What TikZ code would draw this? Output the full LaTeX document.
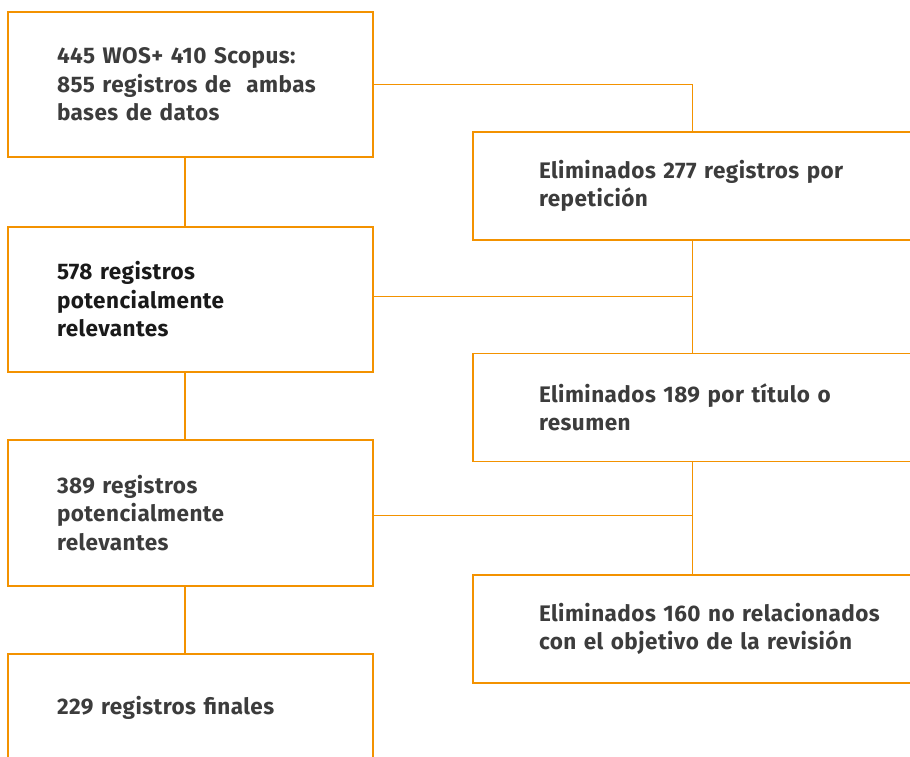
\documentclass[tikz,border=0pt]{standalone}
\usepackage{fontspec}
\setmainfont{Fira Sans}[LetterSpace=2]
\usepackage{tikz}
\usetikzlibrary{calc,positioning}
\definecolor{naranja}{HTML}{F39200}
\definecolor{gris}{HTML}{3C3C3C}
\definecolor{negro}{HTML}{1A1A1A}

\begin{document}
\begin{tikzpicture}[x=1pt, y=-1pt,
    paso/.style={rectangle, draw=naranja, line width=2.4pt, text=gris, align=left,
                 text width=267pt, inner xsep=49pt, inner ysep=0pt, minimum height=145pt,
                 font=\fontsize{22.5}{28.5}\selectfont\bfseries},
    elim/.style={rectangle, draw=naranja, line width=1.3pt, text=gris, align=left,
                 text width=400pt, inner xsep=66pt, inner ysep=0pt, minimum height=108pt,
                 font=\fontsize{22.5}{28.5}\selectfont\bfseries},
    enlace/.style={draw=naranja, line width=1.6pt}]

    \useasboundingbox (0,0) rectangle (910,757);

    % pasos de la izquierda
    \node[paso] (A) at (190.5,84.5) {445 WOS+ 410 Scopus:\\855 registros de\ \ ambas\\bases de datos};
    \node[paso, text=negro] (B) at (190.5,299.5) {578 registros\\potencialmente\\relevantes};
    \node[paso, minimum height=146pt] (C) at (190.5,513) {389 registros\\potencialmente\\relevantes};
    \node[paso, minimum height=108pt] (D) at (190.5,708) {229 registros finales};

    % eliminados a la derecha
    \foreach \n/\y/\t in {R1/186/{Eliminados 277 registros por\\repetici\'on},
                          R2/407.5/{Eliminados 189 por t\'itulo o\\resumen},
                          R3/629/{Eliminados 160 no relacionados\\con el objetivo de la revisi\'on}}{
        \node[elim] (\n) at (739,\y) {\t};
    }

    \coordinate (t1) at ([xshift=220]R1.south west);
    \coordinate (t2) at ([xshift=220]R2.south west);

    \foreach \s/\d in {A/B, B/C, C/D}{
        \draw[enlace] ([xshift=-5.5]\s.south) -- ([xshift=-5.5]\d.north);
    }

    \draw[enlace] (A.east) -| ([xshift=220]R1.north west);
    \draw[enlace] (t1) -- ([xshift=220]R2.north west);
    \draw[enlace, line width=1pt] ([yshift=3.5]B.east) -- ([yshift=3.5]B.east -| t1);
    \draw[enlace] (t2) -- ([xshift=220]R3.north west);
    \draw[enlace, line width=1pt] ([yshift=-2]C.east) -- ([yshift=-2]C.east -| t2);

\end{tikzpicture}
\end{document}
